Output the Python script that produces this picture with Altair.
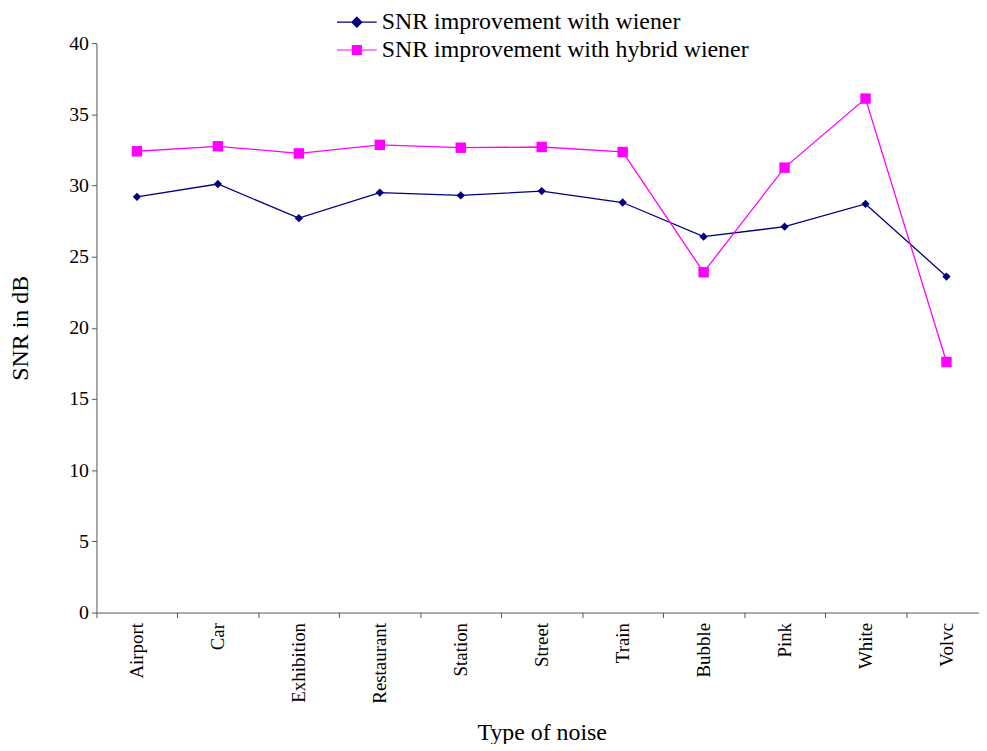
import altair as alt
import pandas as pd

categories = ["Airport", "Car", "Exhibition", "Restaurant", "Station", "Street",
              "Train", "Bubble", "Pink", "White", "Volvc"]
series_names = ["SNR improvement with wiener", "SNR improvement with hybrid wiener"]
series_colors = ["#000080", "#FF00FF"]
wiener = [29.2, 30.1, 27.7, 29.5, 29.3, 29.6, 28.8, 26.4, 27.1, 28.7, 23.6]
hybrid = [32.4, 32.75, 32.25, 32.85, 32.65, 32.7, 32.35, 23.9, 31.25, 36.1, 17.6]
y_ticks = [0, 5, 10, 15, 20, 25, 30, 35, 40]

rows = []
for s, vals in zip(series_names, [wiener, hybrid]):
    for c, v in zip(categories, vals):
        rows.append({"noise": c, "series": s, "snr": v})
df = pd.DataFrame(rows)

FONT = "Liberation Serif"

# legend glyphs: short line with the marker in the middle
diamond_glyph = "M-4,0L4,0M0,-1L1,0L0,1L-1,0Z"
square_glyph = "M-4,0L4,0M-0.9,-0.9L0.9,-0.9L0.9,0.9L-0.9,0.9Z"

color_scale = alt.Scale(domain=series_names, range=series_colors)


def axes():
    x_enc = alt.X(
        "noise:N",
        sort=categories,
        scale=alt.Scale(type="band", paddingInner=0, paddingOuter=0, range=[0, 896]),
        axis=alt.Axis(
            title="Type of noise",
            labelAngle=-90,
            tickBand="extent",
            tickSize=5,
            labelPadding=5,
            titlePadding=18,
            labelFontSize=19,
            titleFontSize=24,
        ),
    )
    y_enc = alt.Y(
        "snr:Q",
        scale=alt.Scale(domain=[0, 40], nice=False, zero=True),
        axis=alt.Axis(
            title="SNR in dB",
            values=y_ticks,
            tickSize=5,
            labelPadding=3,
            titlePadding=36,
            labelFontSize=20,
            titleFontSize=24,
        ),
    )
    return x_enc, y_enc


def finish(chart):
    return (
        chart.properties(
            width=888,
            height=573,
            autosize=alt.AutoSizeParams(type="none"),
            padding={"left": 89, "top": 33, "right": 0, "bottom": 130},
            background="white",
        )
        .configure_view(stroke=None)
        .configure_axis(
            grid=False,
            domainColor="#555555",
            tickColor="#555555",
            labelColor="black",
            titleColor="black",
            labelFont=FONT,
            titleFont=FONT,
            titleFontWeight="normal",
        )
        .configure_legend(labelFont=FONT, labelColor="black")
        .configure_text(font=FONT)
    )


def build_custom():
    x_enc, y_enc = axes()
    legend = alt.Legend(
        title=None,
        orient="none",
        legendX=250,
        legendY=-33,
        labelFontSize=24,
        labelFont=FONT,
        labelOffset=13,
        rowPadding=4,
        symbolSize=100,
        symbolStrokeWidth=1.2,
        symbolOpacity=1,
        labelLimit=700,
    )
    col = alt.Color("series:N", scale=color_scale, sort=series_names, legend=legend)
    base = alt.Chart(df)
    lines = base.mark_line(strokeWidth=1.3).encode(x=x_enc, y=y_enc, color=col, detail="series:N")
    diamonds = base.transform_filter(alt.datum.series == series_names[0]).mark_point(
        filled=True, opacity=1, shape="diamond", size=70
    ).encode(x=x_enc, y=y_enc, color=col)
    squares = base.transform_filter(alt.datum.series == series_names[1]).mark_point(
        filled=True, opacity=1, shape="square", size=110
    ).encode(x=x_enc, y=y_enc, color=col)
    legend_layer = base.mark_point(filled=True, opacity=0).encode(
        x=x_enc,
        y=y_enc,
        color=col,
        stroke=alt.Stroke("series:N", scale=color_scale, sort=series_names, legend=legend),
        shape=alt.Shape(
            "series:N",
            scale=alt.Scale(domain=series_names, range=[diamond_glyph, square_glyph]),
            sort=series_names,
            legend=legend,
        ),
    )
    return finish(alt.layer(lines, diamonds, squares, legend_layer))


def build_plain():
    x_enc, y_enc = axes()
    legend = alt.Legend(
        title=None, orient="none", legendX=256, legendY=-34, labelFontSize=24,
        labelFont=FONT, labelOffset=6, rowPadding=4, symbolSize=100, labelLimit=700,
    )
    shape_scale = alt.Scale(domain=series_names, range=["diamond", "square"])
    base = alt.Chart(df)
    lines = base.mark_line(strokeWidth=1.3).encode(
        x=x_enc, y=y_enc,
        color=alt.Color("series:N", scale=color_scale, sort=series_names, legend=legend),
        detail="series:N",
    )
    points = base.mark_point(filled=True, opacity=1).encode(
        x=x_enc, y=y_enc,
        color=alt.Color("series:N", scale=color_scale, sort=series_names, legend=legend),
        shape=alt.Shape("series:N", scale=shape_scale, sort=series_names, legend=legend),
        size=alt.condition(alt.datum.series == series_names[1], alt.value(110), alt.value(70)),
    )
    return finish(alt.layer(lines, points))


try:
    chart = build_custom()
    chart.save("out.html", embed_options={"renderer": "svg", "actions": False})
except Exception:
    chart = build_plain()
    chart.save("out.html", embed_options={"renderer": "svg", "actions": False})
